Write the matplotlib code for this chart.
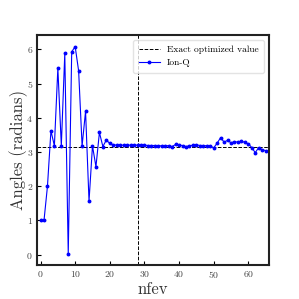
import numpy as np
import matplotlib
matplotlib.use('Agg')
import matplotlib.pyplot as plt

plt.rcParams['font.family'] = 'serif'
plt.rcParams['font.serif'] = ['cmr10']
plt.rcParams['mathtext.fontset'] = 'cm'
plt.rcParams['axes.formatter.use_mathtext'] = True

nfev = np.arange(0, 66)
angles = [1.00, 1.00, 2.00, 3.62, 3.18, 5.45, 3.18, 5.88, 0.03, 5.93,
          6.08, 5.37, 3.18, 4.19, 1.56, 3.18, 2.57, 3.57, 3.16, 3.35,
          3.25, 3.21, 3.20, 3.20, 3.20, 3.20, 3.20, 3.20, 3.20, 3.20,
          3.20, 3.19, 3.19, 3.19, 3.18, 3.18, 3.19, 3.18, 3.16, 3.22,
          3.20, 3.19, 3.16, 3.18, 3.20, 3.21, 3.19, 3.19, 3.18, 3.18,
          3.12, 3.26, 3.42, 3.29, 3.34, 3.27, 3.30, 3.29, 3.32, 3.28,
          3.24, 3.13, 2.98, 3.13, 3.07, 3.04]
exact_value = 3.14
converged_nfev = 28

fig = plt.figure(figsize=(2.99, 2.99), dpi=100)
ax = fig.add_axes([0.124, 0.114, 0.776, 0.769])

ax.axhline(exact_value, color='black', ls='--', lw=0.7, label='Exact optimized value')
ax.axvline(converged_nfev, color='black', ls='--', lw=0.7)
ax.plot(nfev, angles, color='blue', marker='o', markersize=1.8, lw=0.8, label='Ion-Q')

ax.set_xlim(-1, 66)
ax.set_ylim(-0.3, 6.42)
ax.set_xticks([0, 10, 20, 30, 40, 50, 60])
ax.set_yticks([0, 1, 2, 3, 4, 5, 6])
ax.tick_params(direction='in', labelsize=7, length=3, width=0.8, pad=3,
               colors='black', labelcolor='#444444')
for s in ax.spines.values():
    s.set_linewidth(1.5)
    s.set_color('#222222')

ax.set_xlabel('nfev', fontsize=12, color='#333333', labelpad=1)
ax.set_ylabel('Angles (radians)', fontsize=12, color='#333333', labelpad=-1)
ax.legend(loc='upper right', fontsize=6.8, framealpha=0.8, edgecolor='#dddddd',
          borderpad=0.6, handlelength=2.2)

fig.savefig('out.png', dpi=100)
